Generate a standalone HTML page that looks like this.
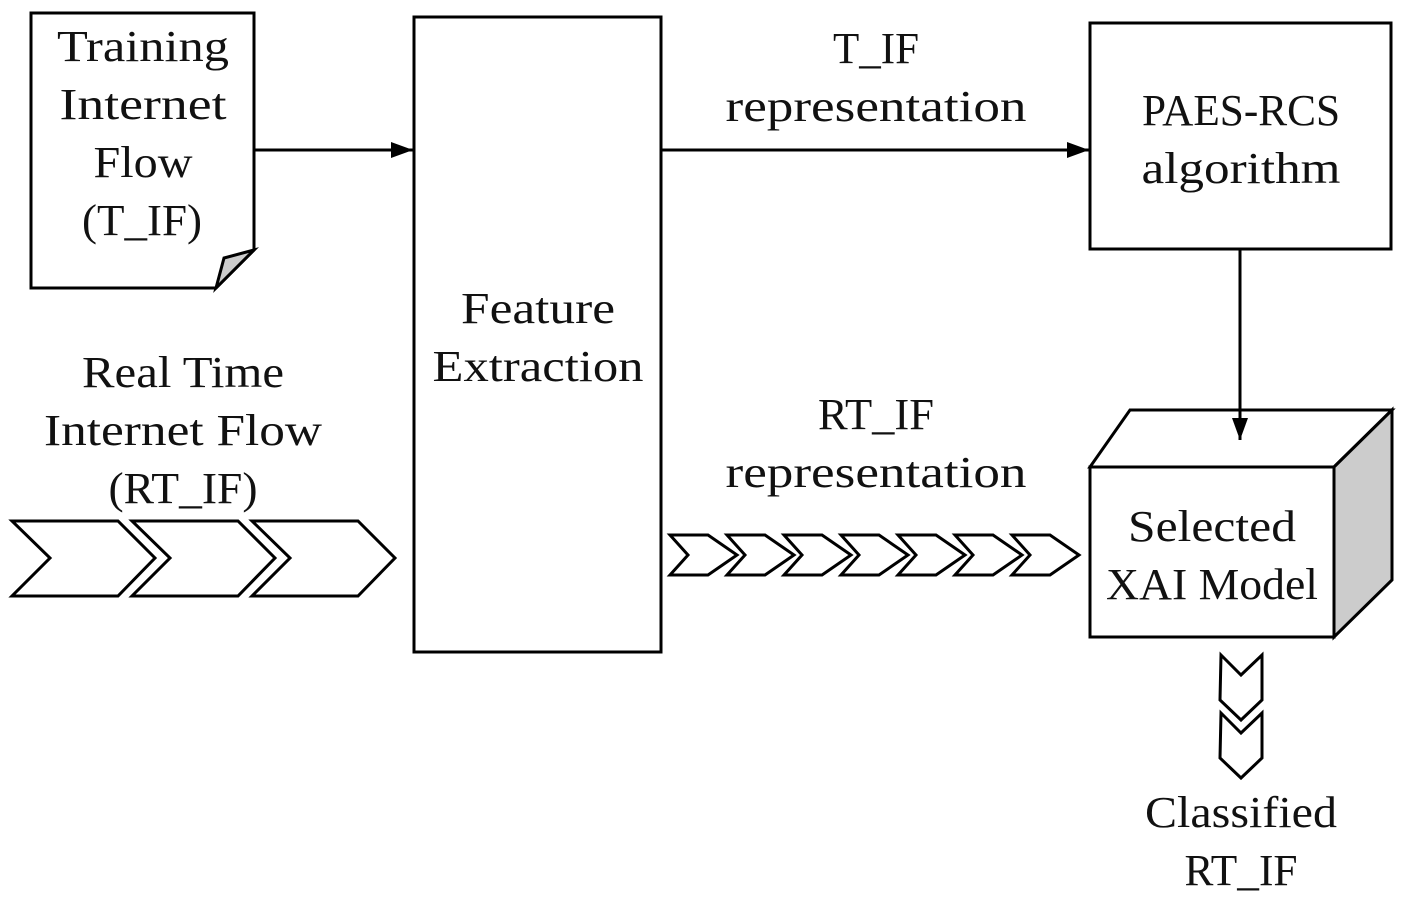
<!DOCTYPE html>
<html><head><meta charset="utf-8"><style>
html,body{margin:0;padding:0;background:#fff;}
svg{display:block}
text{font-family:"Liberation Serif",serif;font-size:44px;fill:#111;text-anchor:middle}
</style></head><body>
<svg width="1406" height="904" viewBox="0 0 1406 904">
<defs><marker id="b" markerWidth="22" markerHeight="16" refX="22" refY="8" orient="auto" markerUnits="userSpaceOnUse"><path d="M0,0L22,8L0,16Z" fill="#000"/></marker></defs>
<g stroke="#000" stroke-width="3" fill="#fff" stroke-linejoin="miter">
<path d="M31,13H254V250L216,288H31Z"/>
<path d="M216,288L224,258L254,250Z" fill="#ccc"/>
<rect x="414" y="17" width="247" height="635"/>
<rect x="1090" y="23" width="301" height="226"/>
<path d="M1090,467L1130,410H1392L1334,467Z"/>
<path d="M1334,467L1392,410V580L1334,637Z" fill="#ccc"/>
<rect x="1090" y="467" width="244" height="170"/>
<path d="M12,521h106l37,37l-37,38h-106l38,-38z"/>
<path d="M132,521h106l37,37l-37,38h-106l38,-38z"/>
<path d="M252,521h106l37,37l-37,38h-106l38,-38z"/>
<path d="M670,535h38l29,20l-29,20h-38l18,-20z"/>
<path d="M727,535h38l29,20l-29,20h-38l18,-20z"/>
<path d="M784,535h38l29,20l-29,20h-38l18,-20z"/>
<path d="M841,535h38l29,20l-29,20h-38l18,-20z"/>
<path d="M898,535h38l29,20l-29,20h-38l18,-20z"/>
<path d="M955,535h38l29,20l-29,20h-38l18,-20z"/>
<path d="M1012,535h38l29,20l-29,20h-38l18,-20z"/>
<path d="M1221,655l20,20l21,-20v45l-21,20l-21,-20z"/>
<path d="M1221,713l20,20l21,-20v45l-21,20l-21,-20z"/>
<line x1="254" y1="150" x2="413" y2="150" marker-end="url(#b)"/>
<line x1="661" y1="150" x2="1089" y2="150" marker-end="url(#b)"/>
<line x1="1240" y1="249" x2="1240" y2="440" marker-end="url(#b)"/>
</g>
<g lengthAdjust="spacingAndGlyphs">
<text x="143" y="61" textLength="172" lengthAdjust="spacingAndGlyphs">Training</text>
<text x="143" y="119" textLength="167" lengthAdjust="spacingAndGlyphs">Internet</text>
<text x="143" y="177" textLength="99" lengthAdjust="spacingAndGlyphs">Flow</text>
<text x="142" y="235" textLength="120" lengthAdjust="spacingAndGlyphs">(T_IF)</text>
<text x="538" y="323" textLength="154" lengthAdjust="spacingAndGlyphs">Feature</text>
<text x="538" y="381" textLength="211" lengthAdjust="spacingAndGlyphs">Extraction</text>
<text x="876" y="63" textLength="86" lengthAdjust="spacingAndGlyphs">T_IF</text>
<text x="876" y="121" textLength="301" lengthAdjust="spacingAndGlyphs">representation</text>
<text x="1241" y="125" textLength="198" lengthAdjust="spacingAndGlyphs">PAES-RCS</text>
<text x="1241" y="183" textLength="199" lengthAdjust="spacingAndGlyphs">algorithm</text>
<text x="183" y="387" textLength="202" lengthAdjust="spacingAndGlyphs">Real Time</text>
<text x="183" y="445" textLength="278" lengthAdjust="spacingAndGlyphs">Internet Flow</text>
<text x="183" y="503" textLength="149" lengthAdjust="spacingAndGlyphs">(RT_IF)</text>
<text x="876" y="429" textLength="116" lengthAdjust="spacingAndGlyphs">RT_IF</text>
<text x="876" y="487" textLength="301" lengthAdjust="spacingAndGlyphs">representation</text>
<text x="1212" y="541" textLength="168" lengthAdjust="spacingAndGlyphs">Selected</text>
<text x="1212" y="599" textLength="212" lengthAdjust="spacingAndGlyphs">XAI Model</text>
<text x="1241" y="827" textLength="192" lengthAdjust="spacingAndGlyphs">Classified</text>
<text x="1241" y="885" textLength="113" lengthAdjust="spacingAndGlyphs">RT_IF</text>
</g>
</svg>
</body></html>
